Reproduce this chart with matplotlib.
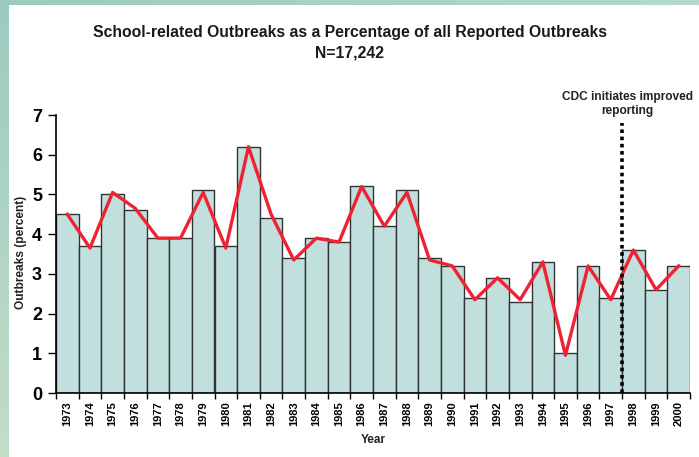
import numpy as np
import matplotlib.pyplot as plt
import matplotlib as mpl

years = [str(y) for y in range(1973, 2001)]
bars = [4.5, 3.7, 5.0, 4.6, 3.9, 3.9, 5.1, 3.7, 6.2, 4.4, 3.4, 3.9, 3.8, 5.2,
        4.2, 5.1, 3.4, 3.2, 2.4, 2.9, 2.3, 3.3, 1.0, 3.2, 2.4, 3.6, 2.6, 3.2]
line = [4.5, 3.65, 5.05, 4.65, 3.9, 3.9, 5.05, 3.65, 6.2, 4.5, 3.35, 3.9, 3.8, 5.2,
        4.2, 5.05, 3.35, 3.2, 2.35, 2.9, 2.35, 3.3, 0.95, 3.2, 2.35, 3.6, 2.6, 3.2]
yticks = [0, 1, 2, 3, 4, 5, 6, 7]

mpl.rcParams['font.family'] = ['Liberation Sans', 'DejaVu Sans']
mpl.rcParams['font.weight'] = 'bold'

fig = plt.figure(figsize=(6.99, 4.57), dpi=100)

# teal frame on the left and top
grad = np.linspace(0, 1, 256)
left_strip = fig.add_axes([0, 0, 9 / 699, 1])
left_strip.imshow(grad.reshape(-1, 1), aspect='auto',
                  cmap=mpl.colors.LinearSegmentedColormap.from_list('l', ['#9ccbc0', '#c3ddc9']),
                  extent=[0, 1, 1, 0])
left_strip.axis('off')
top_strip = fig.add_axes([0, 1 - 5 / 457, 1, 5 / 457])
top_strip.imshow(grad.reshape(1, -1), aspect='auto',
                 cmap=mpl.colors.LinearSegmentedColormap.from_list('t', ['#9ccbc0', '#b6d9c8']))
top_strip.axis('off')

ax = fig.add_axes([56 / 699, 64 / 457, 634 / 699, 278 / 457])
x = np.arange(len(years))
ax.bar(x, bars, width=1.0, color='#c1dfdd', edgecolor='#333333', linewidth=1, zorder=2)
ax.plot(x, line, color='#ee2233', linewidth=2.4, zorder=3)
# CDC marker between 1997 and 1998
ax.plot([24.5, 24.5], [0, 6.8], color='black', linestyle=(0, (1, 1)), linewidth=2.6, zorder=4)

ax.set_xlim(-0.5, 27.5)
ax.set_ylim(0, 7)
ax.set_yticks(yticks)
ax.set_yticklabels([str(t) for t in yticks], fontsize=13, fontweight='bold')
ax.set_xticks(x)
ax.set_xticklabels(years, rotation=90, fontsize=8, fontweight='bold')
ax.tick_params(axis='x', length=0, pad=6)
ax.set_xticks(np.arange(-0.5, 28, 1), minor=True)
ax.tick_params(axis='x', which='minor', length=4, width=1)
ax.tick_params(axis='y', length=6, width=1, pad=4)
for s in ['top', 'right']:
    ax.spines[s].set_visible(False)
ax.spines['left'].set_linewidth(1.2)
ax.spines['bottom'].set_linewidth(1.2)

fig.text(21 / 699, 1 - 252 / 457, 'Outbreaks (percent)', rotation=90, ha='center', va='center',
         fontsize=8.6, fontweight='bold', color='#222222')
fig.text(373 / 699, 1 - 440 / 457, 'Year', ha='center', va='center', fontsize=8.5,
         fontweight='bold', color='#222222')

fig.text(350 / 699, 1 - 32 / 457, 'School-related Outbreaks as a Percentage of all Reported Outbreaks',
         ha='center', va='center', fontsize=11.3, fontweight='bold', color='#1a1a1a')
fig.text(350 / 699, 1 - 53 / 457, 'N=17,242', ha='center', va='center',
         fontsize=11.3, fontweight='bold', color='#1a1a1a')
fig.text(627 / 699, 1 - 104 / 457, 'CDC initiates improved\nreporting', ha='center', va='center',
         fontsize=8.6, fontweight='bold', color='#222222', linespacing=1.15)

fig.savefig('out.png', dpi=100)
